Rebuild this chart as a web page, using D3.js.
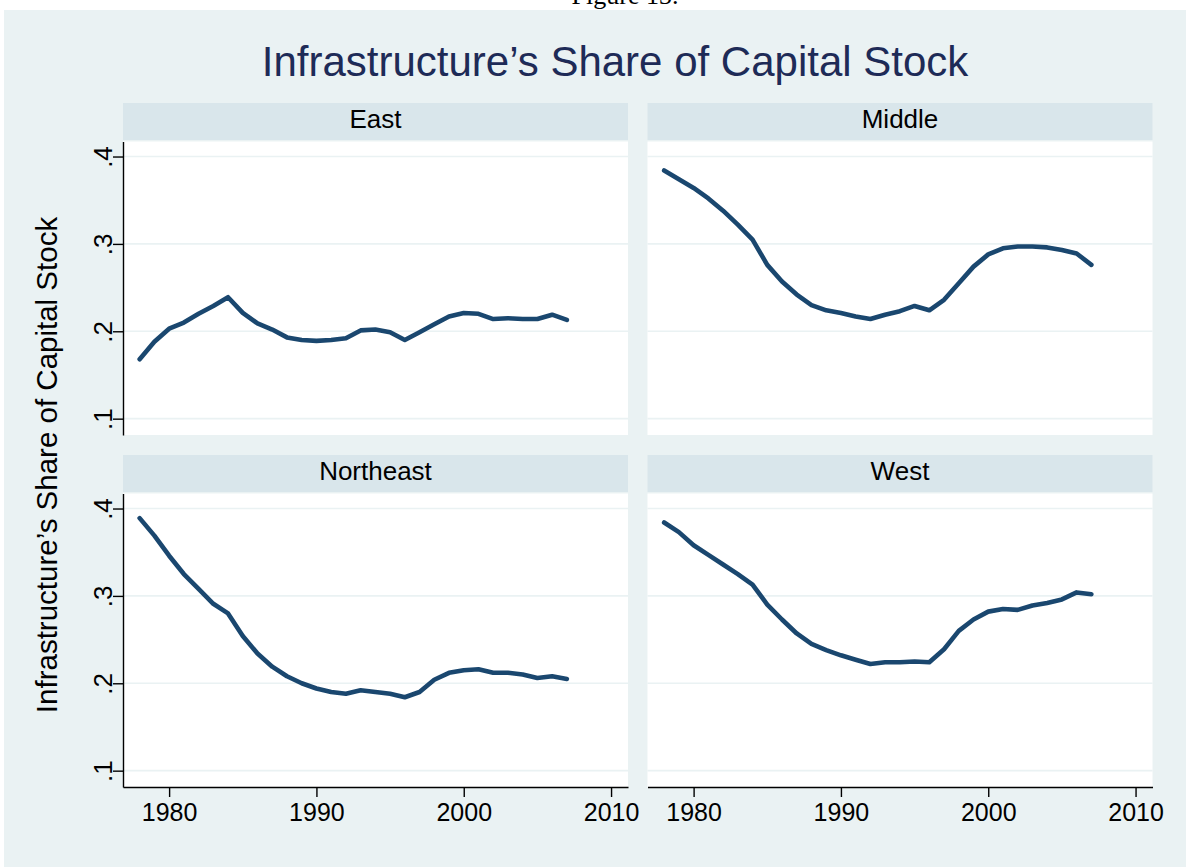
<!DOCTYPE html>
<html>
<head>
<meta charset="utf-8">
<script src="https://cdn.jsdelivr.net/npm/d3@7"></script>
<style>
body { margin: 0; background: #ffffff; }
svg text { font-family: "Liberation Sans", Arial, sans-serif; }
</style>
</head>
<body>
<div id="chart"></div>
<script>
var years = [1978, 1979, 1980, 1981, 1982, 1983, 1984, 1985, 1986, 1987,
             1988, 1989, 1990, 1991, 1992, 1993, 1994, 1995, 1996, 1997,
             1998, 1999, 2000, 2001, 2002, 2003, 2004, 2005, 2006, 2007];

var regions = ["East", "Middle", "Northeast", "West"];

var east = [0.168, 0.188, 0.203, 0.210, 0.220, 0.229, 0.239, 0.221, 0.209, 0.202,
            0.193, 0.190, 0.189, 0.190, 0.192, 0.201, 0.202, 0.199, 0.190, 0.199,
            0.208, 0.217, 0.221, 0.220, 0.214, 0.215, 0.214, 0.214, 0.219, 0.213];

var middle = [0.384, 0.374, 0.364, 0.352, 0.338, 0.322, 0.305, 0.276, 0.257, 0.242,
              0.230, 0.224, 0.221, 0.217, 0.214, 0.219, 0.223, 0.229, 0.224, 0.236,
              0.255, 0.274, 0.288, 0.295, 0.297, 0.297, 0.296, 0.293, 0.289, 0.276];

var northeast = [0.389, 0.369, 0.346, 0.325, 0.308, 0.291, 0.280, 0.254, 0.234, 0.219,
                 0.208, 0.200, 0.194, 0.190, 0.188, 0.192, 0.190, 0.188, 0.184, 0.190,
                 0.204, 0.212, 0.215, 0.216, 0.212, 0.212, 0.210, 0.206, 0.208, 0.205];

var west = [0.384, 0.373, 0.358, 0.347, 0.336, 0.325, 0.313, 0.290, 0.273, 0.257,
            0.245, 0.238, 0.232, 0.227, 0.222, 0.224, 0.224, 0.225, 0.224, 0.239,
            0.260, 0.273, 0.282, 0.285, 0.284, 0.289, 0.292, 0.296, 0.304, 0.302];

var yTicks = [0.1, 0.2, 0.3, 0.4];
var yTickLabels = [".1", ".2", ".3", ".4"];
var xTicks = [1980, 1990, 2000, 2010];

var chartTitle = "Infrastructure\u2019s Share of Capital Stock";
var yTitle = "Infrastructure\u2019s Share of Capital Stock";
var caption = "Figure 13.";

var width = 1186, height = 867;
var colLeft = [123, 647.5];
var rowTop = [103, 455];
var panelWidth = 505;
var stripHeight = 37;
var plotGap = 1.5;
var plotHeight = 293.5;

var lineColor = "#1a476f";
var bgColor = "#eaf2f3";
var stripColor = "#d9e6eb";
var gridColor = "#eaf2f3";

var seriesByRegion = [east, middle, northeast, west];

var svg = d3.select("#chart")
    .append("svg")
        .attr("width", width)
        .attr("height", height)
        .attr("xmlns", "http://www.w3.org/2000/svg")

// caption above the graph, mostly hidden behind the graph region (as in the source page)
svg.append("text")
    .attr("x", 625)
    .attr("y", 4)
    .attr("text-anchor", "middle")
    .style("font-family", "'Liberation Serif', 'Times New Roman', serif")
    .style("font-size", "26px")
    .attr("fill", "#000")
    .text(caption)

svg.append("rect")
    .attr("x", 4)
    .attr("y", 10)
    .attr("width", width - 4)
    .attr("height", height - 10)
    .attr("fill", bgColor)

svg.append("text")
    .attr("x", 615)
    .attr("y", 76)
    .attr("text-anchor", "middle")
    .style("font-size", "42px")
    .attr("fill", "#1e2b57")
    .text(chartTitle)

svg.append("text")
    .attr("transform", "translate(57, 465) rotate(-90)")
    .attr("text-anchor", "middle")
    .style("font-size", "29.5px")
    .attr("fill", "#000")
    .text(yTitle)

var x = d3.scaleLinear()
    .domain([1976.87, 2011.15])
    .range([0, panelWidth])

var y = d3.scaleLinear()
    .domain([0.0813, 0.4172])
    .range([plotHeight, 0])

var line = d3.line()
    .x(function(d, i) { return x(years[i]); })
    .y(function(d) { return y(d); })

regions.forEach(function(name, k) {
    var col = k % 2, row = Math.floor(k / 2);
    var panel = svg.append("g")
        .attr("transform", "translate(" + colLeft[col] + "," + rowTop[row] + ")")

    panel.append("rect")
        .attr("width", panelWidth)
        .attr("height", stripHeight)
        .attr("fill", stripColor)

    panel.append("text")
        .attr("x", panelWidth / 2)
        .attr("y", 24.5)
        .attr("text-anchor", "middle")
        .style("font-size", "26px")
        .attr("fill", "#000")
        .text(name)

    var plot = panel.append("g")
        .attr("transform", "translate(0," + (stripHeight + plotGap) + ")")

    plot.append("rect")
        .attr("width", panelWidth)
        .attr("height", plotHeight)
        .attr("fill", "#fff")

    plot.selectAll(".grid")
        .data(yTicks)
        .enter()
        .append("line")
            .classed("grid", true)
            .attr("x1", 0)
            .attr("x2", panelWidth)
            .attr("y1", function(d) { return y(d); })
            .attr("y2", function(d) { return y(d); })
            .attr("stroke", gridColor)
            .attr("stroke-width", 1.6)

    plot.append("path")
        .datum(seriesByRegion[k])
        .attr("d", line)
        .attr("fill", "none")
        .attr("stroke", lineColor)
        .attr("stroke-width", 4.6)
        .attr("stroke-linecap", "round")
        .attr("stroke-linejoin", "round")

    if (col == 0) {
        var yAxis = plot.append("g")
            .call(d3.axisLeft(y)
                .tickValues(yTicks)
                .tickSize(10)
                .tickSizeOuter(0)
                .tickFormat(function(d, i) { return yTickLabels[i]; }))
        yAxis.select(".domain").attr("stroke", "#000").attr("stroke-width", 1.4)
        yAxis.selectAll(".tick line").attr("stroke", "#000").attr("stroke-width", 1.4)
        yAxis.selectAll(".tick text")
            .attr("x", null)
            .attr("dy", null)
            .attr("transform", "translate(-11,0) rotate(-90)")
            .attr("text-anchor", "middle")
            .attr("fill", "#000")
            .style("font-size", "26px")
            .style("font-family", "'Liberation Sans', Arial, sans-serif")
    }

    if (row == 1) {
        var xAxis = plot.append("g")
            .attr("transform", "translate(0," + plotHeight + ")")
            .call(d3.axisBottom(x)
                .tickValues(xTicks)
                .tickSize(10)
                .tickSizeOuter(0)
                .tickFormat(d3.format("d")))
        xAxis.select(".domain").attr("stroke", "#000").attr("stroke-width", 1.4)
        xAxis.selectAll(".tick line").attr("stroke", "#000").attr("stroke-width", 1.4)
        xAxis.selectAll(".tick text")
            .attr("y", 34)
            .attr("dy", null)
            .attr("fill", "#000")
            .style("font-size", "25px")
            .style("font-family", "'Liberation Sans', Arial, sans-serif")
    }
})
</script>
</body>
</html>
